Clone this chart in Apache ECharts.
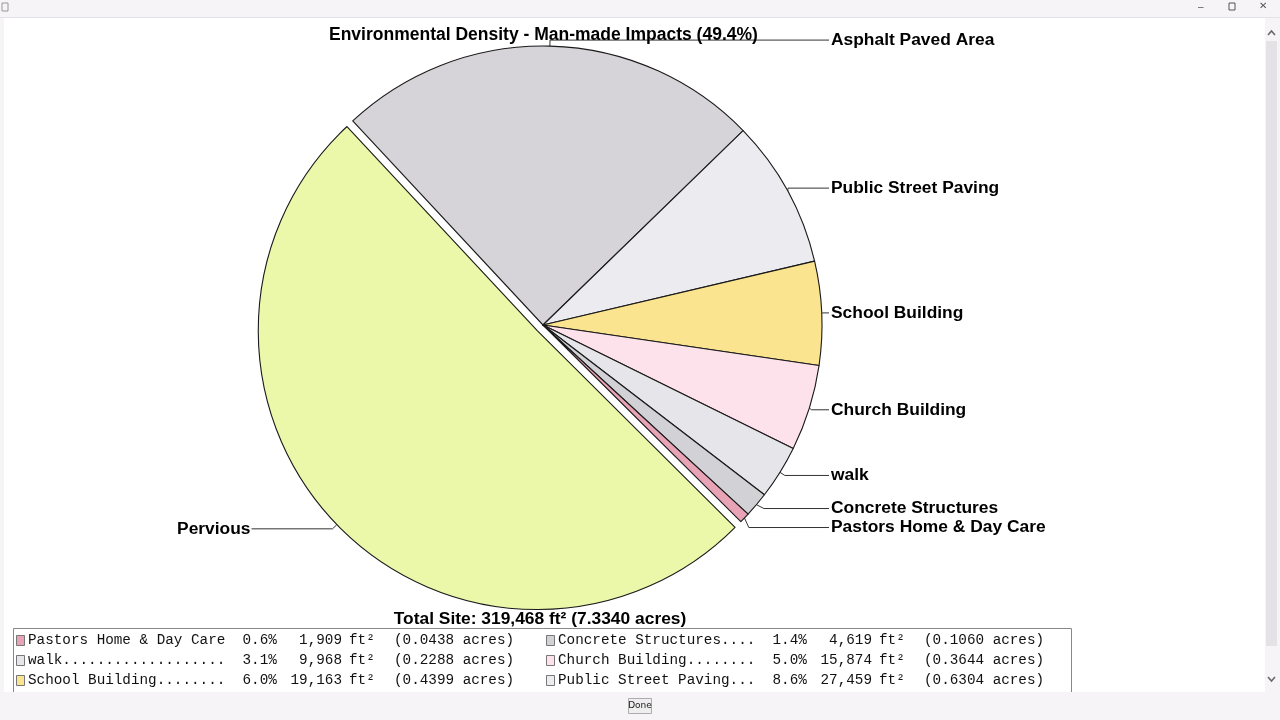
<!DOCTYPE html>
<html lang="en">
<head>
    <meta charset="UTF-8">
    <title>Environmental Density</title>
    <script src="https://cdn.jsdelivr.net/npm/echarts@6.0.0/dist/echarts.min.js"></script>
    <style>
        html, body { margin: 0; padding: 0; background: #f6f4f7; }
        #chart { width: 1280px; height: 720px; }
    </style>
</head>
<body>
    <div id="chart"></div>
    <script>
        // slices, in drawing order (clockwise from the top-left)
        const names = ['Asphalt Paved Area', 'Public Street Paving', 'School Building', 'Church Building',
            'walk', 'Concrete Structures', 'Pastors Home & Day Care', 'Pervious'];
        const sqft = [78825, 27459, 19163, 15874, 9968, 4619, 1909, 161651];
        const colors = ['#d6d4d9', '#ecebef', '#fbe48f', '#fde2eb', '#e6e5e9', '#d2d1d5', '#e8a3b6', '#ecf8a9'];

        // rows of the table under the chart (left column, right column)
        const tableRows = [
            ['Pastors Home & Day Care', 'Concrete Structures'],
            ['walk', 'Church Building'],
            ['School Building', 'Public Street Paving']
        ];

        const SQFT_PER_ACRE = 43560;
        const total = sqft.reduce((a, b) => a + b, 0);
        const pervious = sqft[names.indexOf('Pervious')];
        const fmt = n => n.toLocaleString('en-US');

        const chart = echarts.init(document.getElementById('chart'));

        const fontFamily = '"Liberation Sans", Arial, sans-serif';
        const monoFont = '14.3px "Liberation Mono", "Courier New", monospace';

        const tableItems = [];
        tableRows.forEach((row, r) => {
            row.forEach((name, c) => {
                const x = c === 0 ? 16 : 546;
                const y = 635 + r * 20;
                const v = sqft[names.indexOf(name)];
                const pct = (v / total * 100).toFixed(1) + '%';
                const ac = (v / SQFT_PER_ACRE).toFixed(4);
                const tx = x + 12;
                const cells = [
                    { dx: 0, text: name.padEnd(23, '.') + '  ' + pct, align: 'left' },
                    { dx: 314, text: fmt(v), align: 'right' },
                    { dx: 321, text: 'ft\u00b2', align: 'left' },
                    { dx: 366, text: '(' + ac + ' acres)', align: 'left' }
                ];
                tableItems.push({
                    type: 'rect',
                    shape: { x: x + 0.5, y: y + 0.5, width: 8, height: 10 },
                    style: { fill: colors[names.indexOf(name)], stroke: '#777', lineWidth: 1 }
                });
                cells.forEach(cell => {
                    tableItems.push({
                        type: 'text',
                        x: tx + cell.dx, y: y + 5,
                        style: { text: cell.text, font: monoFont, fill: '#111', align: cell.align, verticalAlign: 'middle' }
                    });
                });
            });
        });

        const option = {
            backgroundColor: '#f6f4f7',
            animation: false,
            graphic: [
                // window area
                { type: 'rect', z: -10, shape: { x: 4, y: 18, width: 1261, height: 675 }, style: { fill: '#ffffff' } },
                { type: 'line', z: -9, shape: { x1: 0, y1: 17.5, x2: 1280, y2: 17.5 }, style: { stroke: '#e4e2e6' } },
                { type: 'text', x: 1198, y: 2, style: { text: '\u2013', font: '10px sans-serif', fill: '#555' } },
                { type: 'rect', shape: { x: 1229, y: 3, width: 6, height: 7 }, style: { fill: 'none', stroke: '#555' } },
                { type: 'text', x: 1259, y: 1, style: { text: '\u2715', font: '10px sans-serif', fill: '#555' } },
                { type: 'rect', shape: { x: 2, y: 3, width: 6, height: 8 }, style: { fill: 'none', stroke: '#999' } },
                // scrollbar
                { type: 'rect', shape: { x: 1266, y: 41, width: 11, height: 605 }, style: { fill: '#e4e2e6' } },
                { type: 'polyline', shape: { points: [[1268, 35], [1271.5, 31], [1275, 35]] }, style: { stroke: '#666', lineWidth: 1.5 } },
                { type: 'polyline', shape: { points: [[1268, 677], [1271.5, 681], [1275, 677]] }, style: { stroke: '#666', lineWidth: 1.5 } },
                // total line
                {
                    type: 'text', x: 540, y: 619,
                    style: {
                        text: 'Total Site: ' + fmt(total) + ' ft\u00b2 (' + (total / SQFT_PER_ACRE).toFixed(4) + ' acres)',
                        font: 'bold 17.4px ' + fontFamily,
                        fill: '#000', align: 'center', verticalAlign: 'middle'
                    }
                },
                // table
                { type: 'rect', shape: { x: 13.5, y: 628.5, width: 1058, height: 80 }, style: { fill: '#fff', stroke: '#888', lineWidth: 1 } },
                { type: 'group', children: tableItems },
                // bottom bar
                { type: 'rect', z: 50, shape: { x: 0, y: 692, width: 1280, height: 28 }, style: { fill: '#f6f4f7' } },
                { type: 'rect', z: 51, shape: { x: 628.5, y: 698.5, width: 23, height: 15 }, style: { fill: '#eeeeee', stroke: '#adadad' } },
                { type: 'text', z: 52, x: 640, y: 706, style: { text: 'Done', font: '9px "DejaVu Sans", sans-serif', fill: '#222', align: 'center', verticalAlign: 'middle' } }
            ],
            title: {
                text: 'Environmental Density - Man-made Impacts (' + ((total - pervious) / total * 100).toFixed(1) + '%)',
                left: 329,
                top: 26,
                padding: 0,
                textStyle: { fontFamily: fontFamily, fontSize: 17.5, fontWeight: 'bold', color: '#000' }
            },
            series: [{
                type: 'pie',
                center: [543, 325],
                radius: 279,
                startAngle: 133,
                clockwise: true,
                selectedMode: 'single',
                selectedOffset: 8,
                emphasis: { disabled: true },
                itemStyle: { borderColor: '#1a1a1a', borderWidth: 1.1 },
                label: {
                    show: true,
                    position: 'outside',
                    fontFamily: fontFamily,
                    fontSize: 17.4,
                    fontWeight: 'bold',
                    color: '#000'
                },
                labelLine: { show: true, length: 6, length2: 4, lineStyle: { color: '#333', width: 1 } },
                // right-hand labels share one text column
                labelLayout: function (p) {
                    const pts = p.labelLinePoints;
                    if (!pts || pts[2][0] < pts[0][0]) return {};
                    const y = pts[2][1];
                    return {
                        x: 831, y: y,
                        align: 'left',
                        verticalAlign: 'middle',
                        labelLinePoints: [pts[0], pts[1], [829, y]]
                    };
                },
                data: names.map((n, i) => ({
                    name: n,
                    value: sqft[i],
                    selected: n === 'Pervious',
                    itemStyle: { color: colors[i] },
                    label: n === 'Pervious' ? { distanceToLabelLine: 1 } : undefined,
                    labelLine: n === 'Pervious' ? { length2: 81 } : undefined
                }))
            }]
        };

        chart.setOption(option);
    </script>
</body>
</html>
